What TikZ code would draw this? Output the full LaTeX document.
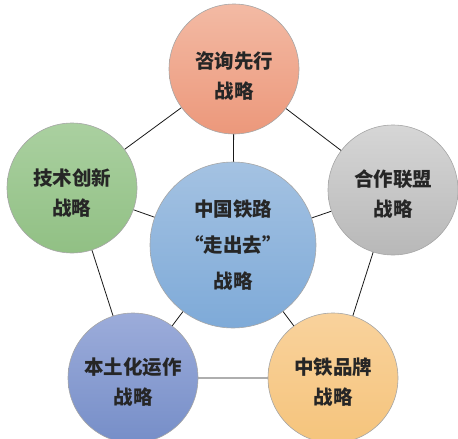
\documentclass[tikz,border=0pt]{standalone}
\usepackage{fontspec}
\newfontfamily\cjk{Noto Sans CJK SC}
\begin{document}
\begin{tikzpicture}[x=1pt,y=-1pt,
  ball/.style={circle, draw=black!35, line width=0.6pt, minimum size=130pt, inner sep=0pt},
  txt/.style={align=center, inner sep=0pt, font=\cjk\bfseries\fontsize{19.5}{30}\selectfont, text=black!85},
  link/.style={draw=black!90, line width=0.8pt}]
\useasboundingbox (0,0) rectangle (458,439);
\clip (0,0) rectangle (458,439);
\coordinate (pc) at (233,245);
\coordinate (pt) at (234,69);
\coordinate (pl) at (72,188);
\coordinate (pr) at (393,190);
\coordinate (pbl) at (133,378);
\coordinate (pbr) at (333,378);
\draw[link] (pt) -- (pl) -- (pbl) -- (pbr) -- (pr) -- (pt);
\foreach \p in {pt,pl,pr,pbl,pbr} \draw[link] (pc) -- (\p);
\node[ball, top color={rgb,255:red,243;green,186;blue,164}, bottom color={rgb,255:red,236;green,152;blue,123}] (top) at (pt) {};
\node[ball, top color={rgb,255:red,170;green,208;blue,160}, bottom color={rgb,255:red,145;green,192;blue,132}] (left) at (pl) {};
\node[ball, top color={rgb,255:red,214;green,214;blue,214}, bottom color={rgb,255:red,184;green,184;blue,184}] (right) at (pr) {};
\node[ball, top color={rgb,255:red,156;green,172;blue,218}, bottom color={rgb,255:red,118;green,142;blue,200}] (bl) at (pbl) {};
\node[ball, top color={rgb,255:red,249;green,210;blue,156}, bottom color={rgb,255:red,245;green,196;blue,124}] (br) at (pbr) {};
\node[ball, minimum size=166pt, top color={rgb,255:red,164;green,194;blue,226}, bottom color={rgb,255:red,126;green,170;blue,216}] (center) at (pc) {};
\node[txt] (toptxt) at ([yshift=-7pt]top.center) {咨询先行\\战略};
\node[txt] (lefttxt) at ([yshift=-5pt]left.center) {技术创新\\战略};
\node[txt] (righttxt) at ([yshift=-4pt]right.center) {合作联盟\\战略};
\node[txt] (bltxt) at ([yshift=-4pt]bl.center) {本土化运作\\战略};
\node[txt] (brtxt) at ([yshift=-4pt]br.center) {中铁品牌\\战略};
\node[txt, font=\cjk\bfseries\fontsize{19.5}{36}\selectfont] (centertxt) at (center.center) {中国铁路\\“走出去”\\战略};
\end{tikzpicture}
\end{document}
